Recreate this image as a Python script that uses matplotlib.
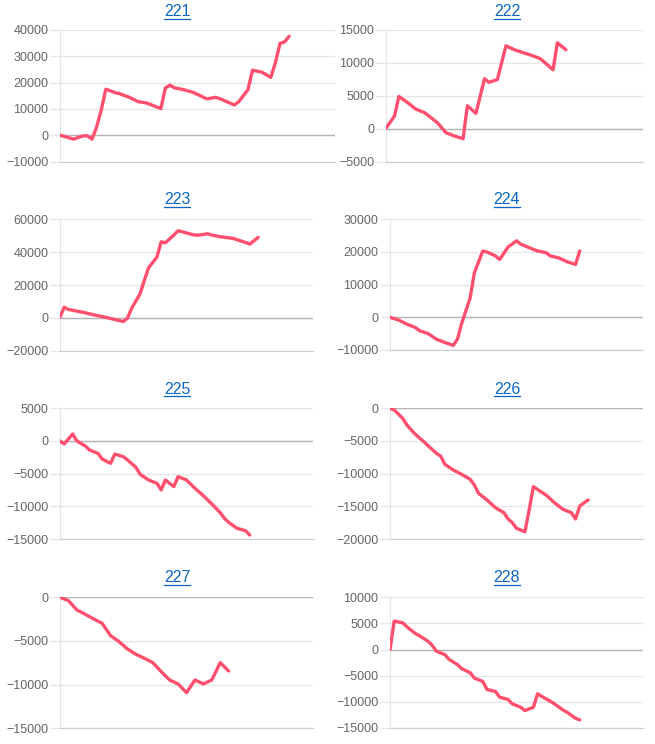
import matplotlib
matplotlib.use("Agg")
import matplotlib.pyplot as plt
from matplotlib.lines import Line2D

plt.rcParams['font.family'] = ['Liberation Sans', 'DejaVu Sans']

# shared category axis: days 0..60, series stop where their data stops
n_days = 60

names = ["221", "222", "223", "224", "225", "226", "227", "228"]

days_221 = [0, 3, 5, 6, 7, 8, 9, 10, 12, 13, 14, 15, 17, 19, 22, 23, 24, 25, 27, 29,
            31, 32, 34, 35, 38, 39, 41, 42, 44, 46, 47, 48, 49, 50]
vals_221 = [0, -1500, -250, -250, -1500, 3200, 9600, 17500, 16200, 15800, 15100, 14500,
            12800, 12200, 10100, 18000, 19000, 18000, 17300, 16300, 14700, 13800, 14400,
            13800, 11500, 12700, 17300, 24700, 24000, 22000, 27600, 34900, 35500, 37600]

days_222 = [0, 2, 3, 5, 7, 9, 10, 12, 14, 16, 18, 19, 21, 23, 24, 26, 28, 30, 32, 34,
            36, 37, 39, 40, 42]
vals_222 = [100, 1950, 4900, 4000, 2970, 2450, 1950, 920, -600, -1100, -1500, 3500, 2350,
            7600, 7060, 7470, 12600, 12000, 11560, 11150, 10650, 10100, 8950, 13050, 12000]

days_223 = [0, 1, 2, 4, 6, 8, 10, 13, 15, 16, 17, 19, 20, 21, 23, 24, 25, 27, 28, 29,
            31, 32, 33, 35, 36, 38, 41, 43, 44, 45, 47]
vals_223 = [400, 6500, 5100, 4100, 3060, 1840, 800, -1000, -2250, -200, 5900, 14700,
            22900, 30400, 37100, 46300, 45700, 50400, 53000, 52400, 51000, 50400, 50400,
            51200, 50400, 49400, 48400, 46700, 45900, 44900, 49000]

days_224 = [0, 2, 4, 6, 7, 9, 11, 13, 15, 16, 17, 19, 20, 22, 23, 25, 26, 28, 30, 31,
            34, 35, 37, 38, 40, 42, 44, 45]
vals_224 = [0, -800, -2100, -3100, -4100, -4950, -6700, -7700, -8600, -6700, -1850, 5900,
            13600, 20300, 20000, 18800, 17700, 21500, 23400, 22400, 20800, 20300, 19800,
            18800, 18200, 17000, 16200, 20300]

days_225 = [0, 1, 3, 4, 6, 7, 9, 10, 12, 13, 15, 16, 18, 19, 21, 23, 24, 25, 27, 28,
            30, 32, 34, 36, 38, 39, 40, 42, 44, 45]
vals_225 = [0, -460, 1070, 0, -770, -1380, -1890, -2760, -3420, -2000, -2400, -2900,
            -4030, -5100, -5970, -6480, -7500, -5970, -6990, -5460, -5970, -7240, -8370,
            -9640, -10970, -11840, -12450, -13370, -13730, -14390]

days_226 = [0, 1, 3, 4, 6, 8, 9, 11, 12, 13, 15, 17, 19, 20, 21, 23, 25, 27, 28, 29,
            30, 32, 33, 34, 36, 37, 39, 40, 41, 43, 44, 45, 47]
vals_226 = [0, -250, -1530, -2550, -3980, -5100, -5710, -6890, -7300, -8570, -9440,
            -10100, -10870, -11730, -13010, -14030, -15200, -15970, -16940, -17500,
            -18370, -18880, -15560, -11990, -12860, -13270, -14440, -14950, -15460,
            -15970, -16940, -14950, -14030]

days_227 = [0, 2, 4, 6, 8, 10, 12, 14, 16, 18, 20, 22, 24, 26, 28, 30, 32, 34, 36, 38, 40]
vals_227 = [0, -380, -1450, -1950, -2480, -2980, -4390, -5080, -5920, -6530, -6980,
            -7480, -8510, -9470, -9920, -10920, -9470, -9920, -9470, -7480, -8440]

days_228 = [0, 1, 3, 4, 6, 7, 9, 10, 11, 13, 14, 16, 17, 19, 20, 22, 23, 25, 26, 28,
            29, 31, 32, 34, 35, 36, 38, 39, 41, 42, 44, 45]
vals_228 = [0, 5450, 5130, 4360, 3080, 2630, 1600, 830, -320, -960, -1860, -2880, -3650,
            -4420, -5450, -6090, -7630, -8010, -9100, -9550, -10380, -11030, -11670,
            -11030, -8460, -8970, -9870, -10380, -11540, -11990, -13140, -13460]

all_days = [days_221, days_222, days_223, days_224, days_225, days_226, days_227, days_228]
all_vals = [vals_221, vals_222, vals_223, vals_224, vals_225, vals_226, vals_227, vals_228]

# y axis ranges (min, max, step)
y_ranges = [(-10000, 40000, 10000), (-5000, 15000, 5000), (-20000, 60000, 20000),
            (-10000, 30000, 10000), (-15000, 5000, 5000), (-20000, 0, 5000),
            (-15000, 0, 5000), (-15000, 10000, 5000)]

W, H = 655, 744
# plot boxes in pixels: left, right, top, bottom
boxes = [(60, 335, 30, 161.5), (386, 643, 30, 161.7),
         (60, 313, 219.3, 350.7), (390, 643, 219.3, 350),
         (60, 313, 408.3, 539), (390, 643, 408.3, 539),
         (60, 313, 597.3, 728.3), (390, 643, 597.3, 728)]
title_x = [177, 507]
title_y = [12, 200, 389, 578]

line_color = "#ff4f6e"
grid_color = "#e6e6e6"
zero_color = "#b4b4b4"
link_color = "#0a66c2"

fig = plt.figure(figsize=(W / 100, H / 100), dpi=100)
titles = []

for i in range(8):
    l, r, t, b = boxes[i]
    ax = fig.add_axes([l / W, 1 - b / H, (r - l) / W, (b - t) / H])
    lo, hi, step = y_ranges[i]
    ax.set_xlim(0, n_days)
    ax.set_ylim(lo, hi)
    ax.set_yticks(list(range(lo, hi + 1, step)))
    ax.set_xticks([])
    ax.grid(axis="y", color=grid_color, linewidth=1)
    ax.set_axisbelow(True)
    ax.axhline(0, color=zero_color, linewidth=1, zorder=1)
    ax.tick_params(axis="y", length=7.5, width=1, color=grid_color,
                   labelsize=9, labelcolor="#666666", pad=1)
    for s in ["top", "right"]:
        ax.spines[s].set_visible(False)
    ax.spines["left"].set_color(grid_color)
    ax.spines["bottom"].set_color("#cccccc")
    ax.plot(all_days[i], all_vals[i], color=line_color, linewidth=2.4,
            solid_joinstyle="round", solid_capstyle="round", zorder=3)

    tx = title_x[i % 2] / W
    ty = 1 - title_y[i // 2] / H
    titles.append(fig.text(tx, ty, names[i], color=link_color, fontsize=11.5,
                           ha="center", va="center"))

# underline the titles like links
fig.canvas.draw()
rend = fig.canvas.get_renderer()
for txt in titles:
    bb = txt.get_window_extent(renderer=rend)
    y = (bb.y0 + 1) / H
    fig.add_artist(Line2D([bb.x0 / W, bb.x1 / W], [y, y], color=link_color, linewidth=0.9))

fig.savefig("out.png", dpi=100)
